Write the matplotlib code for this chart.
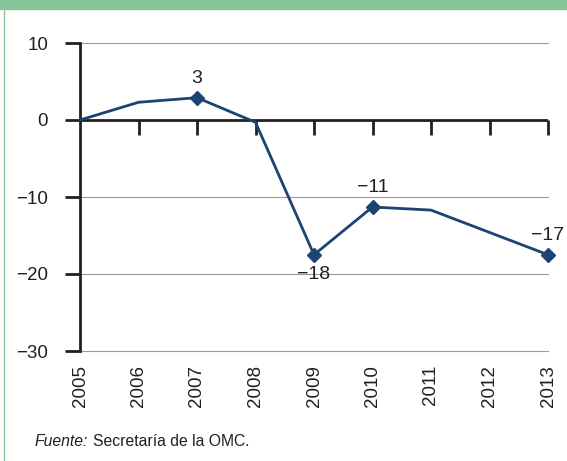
import matplotlib.pyplot as plt
from matplotlib.patches import Rectangle
from matplotlib.lines import Line2D

plt.rcParams['font.family'] = ['Liberation Sans', 'DejaVu Sans']

years = [2005, 2006, 2007, 2008, 2009, 2010, 2011, 2012, 2013]
values = [0, 2.3, 2.9, -0.3, -17.5, -11.3, -11.7, -14.6, -17.5]

# points that carry a marker and a label
marked_years = [2007, 2009, 2010, 2013]
marked_values = [2.9, -17.5, -11.3, -17.5]
marked_labels = ["3", "\u221218", "\u221211", "\u221217"]

y_ticks = [-30, -20, -10, 0, 10]

line_color = "#1b4472"
green = "#86c49a"

fig = plt.figure(figsize=(5.67, 4.61), dpi=100)
ax = fig.add_axes([80 / 567, 1 - 351 / 461, 468 / 567, 308 / 461])

ax.set_xlim(2005, 2013)
ax.set_ylim(-30, 10)

# gridlines
for t in y_ticks:
    if t != 0:
        ax.axhline(t, color="#9a9a9a", lw=0.8, zorder=1, clip_on=False)
ax.axhline(0, color="#231f20", lw=2, zorder=2)
# downward ticks on the zero line
ax.vlines(years[1:], -2.0, 0, color="#231f20", lw=2, zorder=2, clip_on=False)

ax.plot(years, values, color=line_color, lw=2, zorder=3, clip_on=False)
ax.plot(marked_years, marked_values, "D", color=line_color, ms=7, zorder=4, clip_on=False)

offsets = [(0, 14), (0, -14), (0, 14), (0, 14)]
for x, y, s, off in zip(marked_years, marked_values, marked_labels, offsets):
    ax.annotate(s, (x, y), xytext=off, textcoords="offset points",
                ha="center", va="center", fontsize=14, color="#231f20")

for s in ["top", "right", "bottom"]:
    ax.spines[s].set_visible(False)
ax.spines["left"].set_color("#231f20")
ax.spines["left"].set_linewidth(2)

ax.set_yticks(y_ticks)
ax.set_yticklabels(["\u221230", "\u221220", "\u221210", "0", "10"])
ax.tick_params(axis="y", length=11, width=2, color="#231f20", labelsize=13.5,
               pad=12, labelcolor="#231f20")
ax.set_xticks(years)
ax.set_xticklabels([str(y) for y in years], rotation=90)
ax.tick_params(axis="x", length=0, labelsize=13.5, pad=10, labelcolor="#231f20")

# green frame
fig.patches.append(Rectangle((0, 1 - 9 / 461), 1, 9 / 461, transform=fig.transFigure,
                             color=green, zorder=0))
fig.lines.append(Line2D([3.5 / 567, 3.5 / 567], [0, 1 - 9 / 461], transform=fig.transFigure,
                        color=green, lw=1))

src = fig.text(35 / 567, 1 - 441 / 461, "Fuente:", style="italic", fontsize=11.3,
               color="#231f20", va="center")
fig.canvas.draw()
ax.annotate("Secretaría de la OMC.", xy=(1, 0.5), xycoords=src, xytext=(3, 0),
            textcoords="offset points", fontsize=11.3, color="#231f20",
            va="center", annotation_clip=False)

fig.savefig("out.png", dpi=100)
